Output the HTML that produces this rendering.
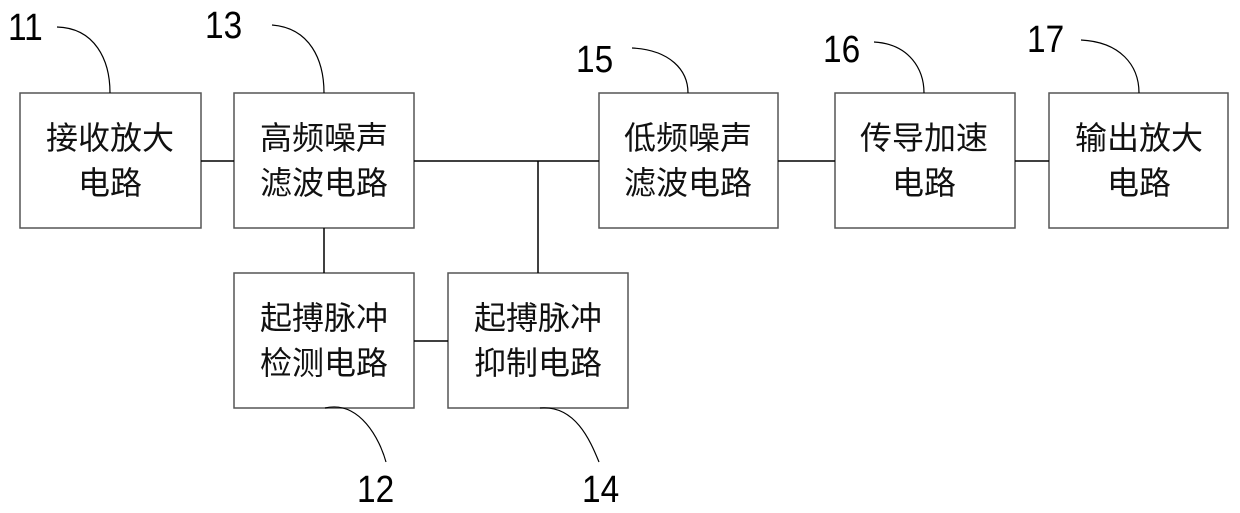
<!DOCTYPE html>
<html><head><meta charset="utf-8"><style>
html,body{margin:0;padding:0;background:#fff}
svg{display:block}
.t{font-family:"Liberation Sans","Noto Sans CJK SC",sans-serif;font-size:32px;fill:#111}
.n{font-family:"Liberation Sans",sans-serif;font-size:38px;fill:#000}
</style></head><body>
<svg width="1240" height="513" viewBox="0 0 1240 513" xmlns="http://www.w3.org/2000/svg">
<g fill="none" stroke="#555" stroke-width="1.5">
<rect x="20" y="93" width="181" height="135"/>
<rect x="234" y="93" width="180" height="135"/>
<rect x="234" y="273" width="180" height="135"/>
<rect x="448" y="273" width="180" height="135"/>
<rect x="599" y="93" width="179" height="135"/>
<rect x="835" y="93" width="180" height="135"/>
<rect x="1049" y="93" width="179" height="135"/>
</g>
<g stroke="#000" stroke-width="1.5" fill="none">
<line x1="201" y1="161" x2="234" y2="161"/>
<line x1="414" y1="161" x2="599" y2="161"/>
<line x1="538" y1="161" x2="538" y2="273"/>
<line x1="324" y1="228" x2="324" y2="273"/>
<line x1="414" y1="341" x2="448" y2="341"/>
<line x1="778" y1="161" x2="835" y2="161"/>
<line x1="1015" y1="161" x2="1049" y2="161"/>
</g>
<g stroke="#000" stroke-width="1.2" fill="none">
<path d="M57 27 C95 28 110 60 110 93"/>
<path d="M272 25 C310 28 324 60 324 93"/>
<path d="M632 48 C670 50 688 70 688 93"/>
<path d="M874 42 C910 44 924 70 924 93"/>
<path d="M1081 40 C1120 42 1139 65 1139 93"/>
<path d="M325 408 C360 400 380 440 386 462"/>
<path d="M540 408 C575 405 590 440 599 462"/>
</g>
<g class="t" text-anchor="middle">
<text x="110" y="149">接收放大</text><text x="110" y="194">电路</text>
<text x="324" y="149">高频噪声</text><text x="324" y="194">滤波电路</text>
<text x="324" y="329">起搏脉冲</text><text x="324" y="374">检测电路</text>
<text x="538" y="329">起搏脉冲</text><text x="538" y="374">抑制电路</text>
<text x="688" y="149">低频噪声</text><text x="688" y="194">滤波电路</text>
<text x="924" y="149">传导加速</text><text x="924" y="194">电路</text>
<text x="1139" y="149">输出放大</text><text x="1139" y="194">电路</text>
</g>
<g class="n">
<text transform="translate(8,40) scale(0.88,1)">11</text>
<text transform="translate(205,38) scale(0.88,1)">13</text>
<text transform="translate(576,72) scale(0.88,1)">15</text>
<text transform="translate(823,62) scale(0.88,1)">16</text>
<text transform="translate(1027,52) scale(0.88,1)">17</text>
<text transform="translate(357,502) scale(0.88,1)">12</text>
<text transform="translate(582,502) scale(0.88,1)">14</text>
</g>
</svg>
</body></html>
